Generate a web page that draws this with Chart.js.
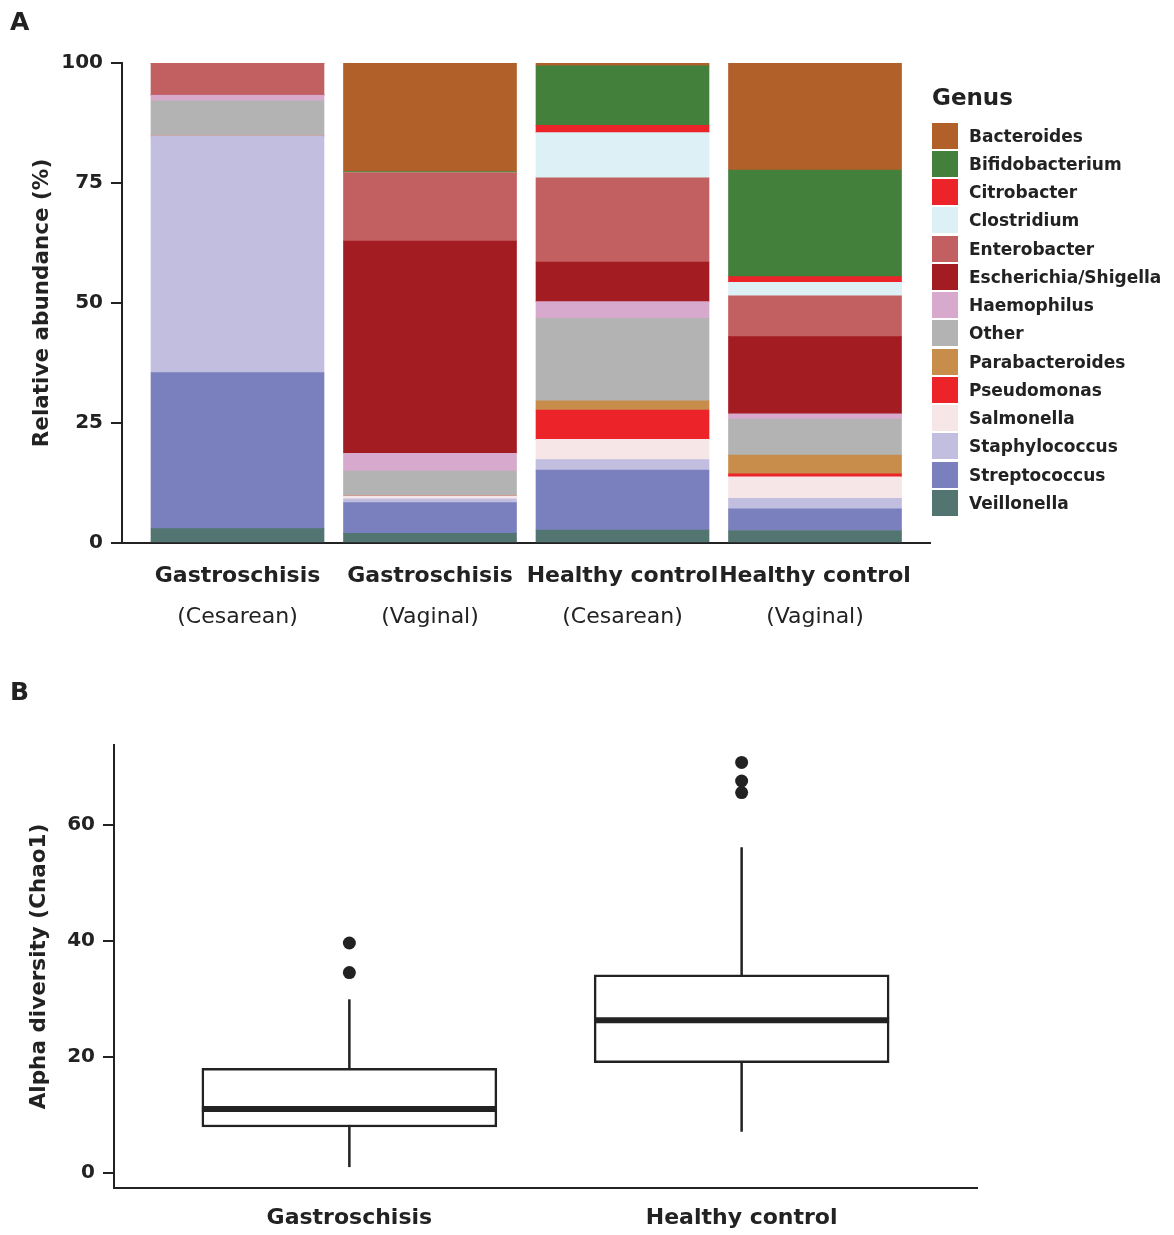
<!DOCTYPE html>
<html>
<head>
<meta charset="utf-8">
<script src="https://cdn.jsdelivr.net/npm/chart.js@4.4.1/dist/chart.umd.min.js"></script>
<style>
body { margin: 0; background: #fff; font-family: "DejaVu Sans", sans-serif; color: #222; }
#wrap { position: relative; width: 1174px; height: 1235px; overflow: hidden; }
canvas { position: absolute; left: 0; }
#chartA { top: 0; }
#chartB { top: 650px; }
.panel { position: absolute; left: 10px; font-weight: bold; font-size: 25px; line-height: 30px; }
#legend { position: absolute; left: 932px; top: 84px; width: 242px; height: 440px; }
#legend .title { position: absolute; left: 0; top: 0; font-weight: bold; font-size: 23px; line-height: 26px; }
#legend .item { position: absolute; left: 0; height: 26px; display: flex; align-items: center;
  font-weight: bold; font-size: 17px; white-space: nowrap; }
#legend .sw { display: inline-block; width: 26px; height: 26px; margin-right: 11px; }
</style>
</head>
<body>
<div id="wrap">
  <canvas id="chartA" width="1174" height="660"></canvas>
  <canvas id="chartB" width="1174" height="585"></canvas>
  <div class="panel" style="top:7px">A</div>
  <div class="panel" style="top:677px">B</div>
  <div id="legend"><div class="title">Genus</div></div>
</div>
<script>
var font = 'DejaVu Sans';
var ink = '#222';

// panel A: relative abundance per group
var groupNames = ['Gastroschisis', 'Gastroschisis', 'Healthy control', 'Healthy control'];
var deliveryNames = ['(Cesarean)', '(Vaginal)', '(Cesarean)', '(Vaginal)'];
var genusNames = ['Bacteroides', 'Bifidobacterium', 'Citrobacter', 'Clostridium', 'Enterobacter',
  'Escherichia/Shigella', 'Haemophilus', 'Other', 'Parabacteroides', 'Pseudomonas',
  'Salmonella', 'Staphylococcus', 'Streptococcus', 'Veillonella'];
var genusColors = ['#B06028', '#43803B', '#EC2328', '#DCF0F6', '#C25F60',
  '#A31C22', '#D7A9CD', '#B3B3B3', '#C88D4B', '#EC2328',
  '#F6E6E8', '#C1BEDF', '#7A80BD', '#527571'];

var bacteroides     = [0,    22.6,  0.6, 22.3];
var bifidobacterium = [0,     0.3, 12.4, 22.2];
var citrobacter     = [0,     0,    1.5,  1.2];
var clostridium     = [0,     0,    9.4,  2.8];
var enterobacter    = [6.7,  14.2, 17.6,  8.5];
var escherichia     = [0,    44.2,  8.2, 16.1];
var haemophilus     = [1.2,   3.7,  3.5,  1.1];
var other           = [7.3,   5.2, 17.2,  7.5];
var parabacteroides = [0,     0,    1.9,  3.9];
var pseudomonas     = [0,     0,    6.1,  0.6];
var salmonella      = [0,     0.6,  4.2,  4.5];
var staphylococcus  = [49.3,  0.8,  2.2,  2.2];
var streptococcus   = [32.5,  6.4, 12.5,  4.5];
var veillonella     = [3.0,   2.0,  2.7,  2.6];
var genusValues = [bacteroides, bifidobacterium, citrobacter, clostridium, enterobacter,
  escherichia, haemophilus, other, parabacteroides, pseudomonas,
  salmonella, staphylococcus, streptococcus, veillonella];
var abundanceTicks = [0, 25, 50, 75, 100];

// panel B: Chao1 boxplots
var boxGroups = ['Gastroschisis', 'Healthy control'];
var whiskerLow = [1.0, 7.1];
var quartile1 = [7.9, 19.0];
var medians = [11.0, 26.3];
var quartile3 = [18.0, 34.1];
var whiskerHigh = [29.9, 56.1];
var outlierGroup = [1, 1, 2, 2, 2];
var outlierValue = [39.6, 34.5, 70.7, 67.5, 65.5];
var chaoTicks = [0, 20, 40, 60];

function yAxis(title, ticks, min, max, width, titlePad) {
  return {
    min: min, max: max,
    afterBuildTicks: function (s) { s.ticks = ticks.map(function (v) { return {value: v}; }); },
    afterFit: function (s) { s.width = width; },
    grid: { drawOnChartArea: false, drawTicks: true, tickLength: 11, color: ink, lineWidth: 2 },
    border: { display: true, color: ink, width: 2 },
    ticks: { color: ink, padding: 8, font: { family: font, size: 20, weight: 'bold' } },
    title: { display: true, text: title, color: ink, padding: { top: titlePad },
      font: { family: font, size: 21.5, weight: 'bold' } }
  };
}

function xAxis(labels, max, height, pad) {
  return {
    type: 'linear', min: 0.4, max: max, offset: false,
    afterBuildTicks: function (s) { s.ticks = labels.map(function (l, i) { return {value: i + 1}; }); },
    afterFit: function (s) { s.height = height; },
    grid: { display: false, drawTicks: false },
    border: { display: true, color: ink, width: 2 },
    ticks: { color: ink, padding: pad, maxRotation: 0, autoSkip: false,
      font: { family: font, size: 22, weight: 'bold' },
      callback: function (v) { return labels[Math.round(v) - 1]; } }
  };
}

var deliveryLabels = {
  id: 'deliveryLabels',
  afterDraw: function (chart) {
    var ctx = chart.ctx, xs = chart.scales.x;
    ctx.save();
    ctx.font = '22px "' + font + '"';
    ctx.fillStyle = ink;
    ctx.textAlign = 'center';
    ctx.textBaseline = 'middle';
    deliveryNames.forEach(function (t, i) {
      ctx.fillText(t, xs.getPixelForValue(i + 1), xs.top + 74);
    });
    ctx.restore();
  }
};

var stackSets = genusNames.map(function (name, i) {
  return {
    label: name,
    data: genusValues[i].map(function (v, j) { return {x: j + 1, y: v}; }),
    backgroundColor: genusColors[i],
    borderWidth: 0,
    barThickness: 173
  };
}).reverse();

var xA = xAxis(groupNames, 4.6, 117, 20);
xA.stacked = true;
var yA = yAxis('Relative abundance (%)', abundanceTicks, 0, 100, 122, 30);
yA.stacked = true;

new Chart(document.getElementById('chartA'), {
  type: 'bar',
  data: { datasets: stackSets },
  options: {
    responsive: false, animation: false, devicePixelRatio: 1,
    layout: { padding: { top: 63, right: 243.5, left: 0, bottom: 0 } },
    plugins: { legend: { display: false }, tooltip: { enabled: false } },
    scales: { x: xA, y: yA }
  },
  plugins: [deliveryLabels]
});

var legend = document.getElementById('legend');
genusNames.forEach(function (name, i) {
  var row = document.createElement('div');
  row.className = 'item';
  row.style.top = (38.5 + i * 28.25) + 'px';
  row.innerHTML = '<span class="sw" style="background:' + genusColors[i] + '"></span>' + name;
  legend.appendChild(row);
});

// boxplot pieces
var boxHalf = 0.376;
var boxSets = [];
boxGroups.forEach(function (g, i) {
  boxSets.push({
    type: 'line', order: 3,
    data: [{x: i + 1, y: whiskerLow[i]}, {x: i + 1, y: whiskerHigh[i]}],
    borderColor: ink, borderWidth: 2.5, pointRadius: 0
  });
  boxSets.push({
    type: 'line', order: 1,
    data: [{x: i + 1 - boxHalf, y: medians[i]}, {x: i + 1 + boxHalf, y: medians[i]}],
    borderColor: ink, borderWidth: 6, pointRadius: 0, borderCapStyle: 'butt'
  });
});
boxSets.push({
  type: 'bar', order: 2,
  data: boxGroups.map(function (g, i) { return {x: i + 1, y: [quartile1[i], quartile3[i]]}; }),
  backgroundColor: '#fff', borderColor: ink, borderWidth: 2.5, borderSkipped: false,
  barThickness: 295
});
boxSets.push({
  type: 'scatter', order: 0,
  data: outlierValue.map(function (v, i) { return {x: outlierGroup[i], y: v}; }),
  backgroundColor: ink, borderWidth: 0, pointRadius: 6.5
});

new Chart(document.getElementById('chartB'), {
  type: 'bar',
  data: { datasets: boxSets },
  options: {
    responsive: false, animation: false, devicePixelRatio: 1,
    layout: { padding: { top: 95, right: 197, left: 0, bottom: 0 } },
    plugins: { legend: { display: false }, tooltip: { enabled: false } },
    scales: {
      x: xAxis(boxGroups, 2.6, 47, 17),
      y: yAxis('Alpha diversity (Chao1)', chaoTicks, -2.6, 73.7, 114, 27)
    }
  }
});
</script>
</body>
</html>
